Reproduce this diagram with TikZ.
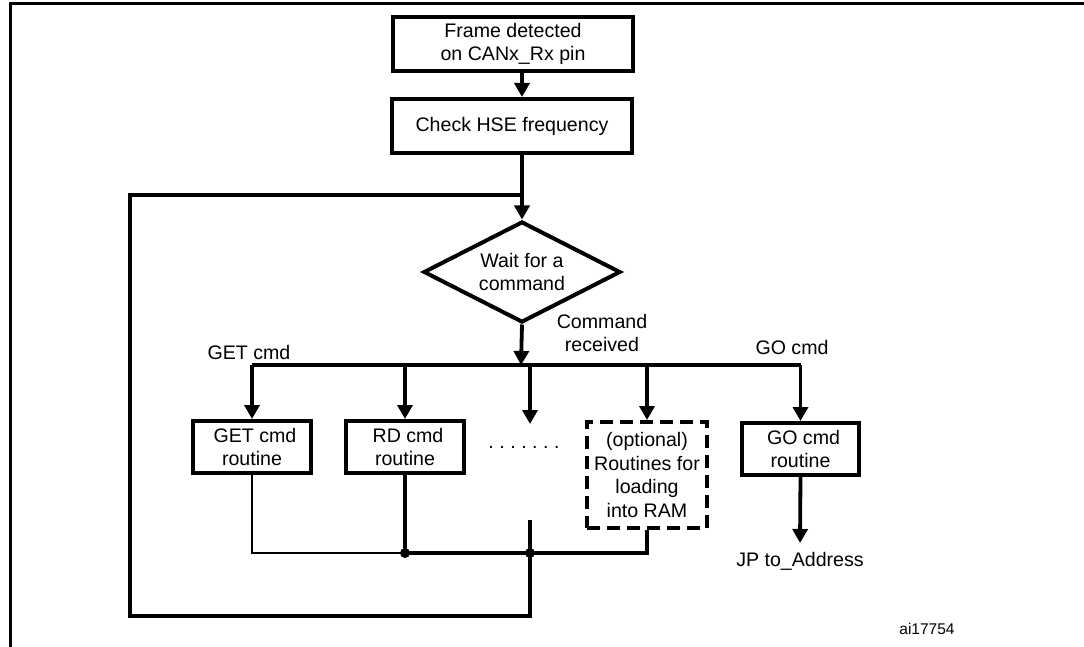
\documentclass[tikz,border=0pt]{standalone}
\usepackage{fontspec}
\setmainfont{Liberation Sans}
\usetikzlibrary{shapes.geometric,arrows.meta}
\begin{document}
\begin{tikzpicture}[x=1pt,y=-1pt,
  font=\fontsize{19.6}{23.8}\selectfont,
  procbox/.style={draw, line width=4pt, align=center, inner sep=0pt},
  optbox/.style={procbox, dash pattern=on 13pt off 7pt},
  decision/.style={draw, diamond, line width=4pt, align=center, inner sep=0pt,
    shape aspect=2, minimum width=197pt, minimum height=101pt},
  flow/.style={line width=3.8pt, line join=miter},
  thinflow/.style={line width=2.7pt, line join=miter},
  arr/.style={flow, -{Triangle[width=15pt,length=14pt]}},
  junction/.style={circle, fill, inner sep=0pt, minimum size=10pt},
  lbl/.style={inner sep=0pt, align=center}]

\useasboundingbox (0,0) rectangle (1084,647);

% page frame
\draw[line width=3pt, line join=miter] (10,647) -- (10,4) -- (1084,4);

% main flow
\node[procbox, minimum width=240pt, minimum height=54pt] (frame) at (513,44)
  {Frame detected\\on CANx\_Rx pin};
\node[procbox, minimum width=240pt, minimum height=54pt] (hse) at (512,126)
  {Check HSE frequency};
\node[decision] (wait) at (522,272) {Wait for a\\command};

% command routines
\node[procbox, minimum width=118pt, minimum height=52pt] (get) at (252,447)
  {\hspace{6pt}GET cmd\\routine};
\node[procbox, minimum width=118pt, minimum height=52pt] (rd) at (405,447)
  {\hspace{6pt}RD cmd\\routine};
\node[lbl] (dots) at (524,447) {.\hspace{5.5pt}.\hspace{5.5pt}.\hspace{5.5pt}.\hspace{5.5pt}.\hspace{5.5pt}.\hspace{5.5pt}.};
\node[optbox, minimum width=120pt, minimum height=106pt] (opt) at (647,475)
  {(optional)\\Routines for\\loading\\into RAM};
\node[procbox, minimum width=117pt, minimum height=52pt] (go) at (800.5,449)
  {\hspace{6pt}GO cmd\\routine};

% labels
\node[lbl] (getlbl) at (249,352) {GET cmd};
\node[lbl] (cmdlbl) at (602,333) {Command\\received};
\node[lbl] (golbl) at (792,347) {GO cmd};
\node[lbl, anchor=base] (jp) at (800,566) {JP to\_Address};
\node[lbl, anchor=base, font=\fontsize{15.5}{18}\selectfont] (ref) at (927,634) {ai17754};

% routing points
\coordinate (bus) at (521,365);
\coordinate (dotsarr) at (530,365);
\coordinate (dotstip) at (530,424);
\coordinate (dotsret) at (530,520);
\coordinate (retbus) at (530,553);
\coordinate (loopbr) at (530,616);
\coordinate (loopbl) at (130,616);
\coordinate (looptl) at (130,195);
\coordinate (jptip) at (800,543);

% top of the chart
\draw[arr] (frame.south -| wait.north) -- (hse.north -| wait.north);
\draw[arr] (hse.south -| wait.north) -- (wait.north);
\draw[arr] (wait.south) -- (bus);

% dispatch bus
\draw[flow] (get.north |- bus) -- (go.north |- bus);
\draw[arr] (get.north |- bus) -- (get.north);
\draw[arr] (rd.north |- bus) -- (rd.north);
\draw[arr] (dotsarr) -- (dotstip);
\draw[arr] (opt.north |- bus) -- (opt.north);
\draw[arr] (go.north |- bus) -- (go.north);
\draw[arr] (go.south) -- (jptip);

% return paths
\draw[thinflow] (get.south) -- (get.south |- retbus) -- (rd.south |- retbus);
\draw[flow] (rd.south) -- (rd.south |- retbus);
\draw[flow] (rd.south |- retbus) -- (opt.south |- retbus) -- (opt.south);
\draw[flow] (dotsret) -- (loopbr) -- (loopbl) -- (looptl) -- (looptl -| wait.north);
\node[junction] (j1) at (rd.south |- retbus) {};
\node[junction] (j2) at (retbus) {};

\end{tikzpicture}
\end{document}
